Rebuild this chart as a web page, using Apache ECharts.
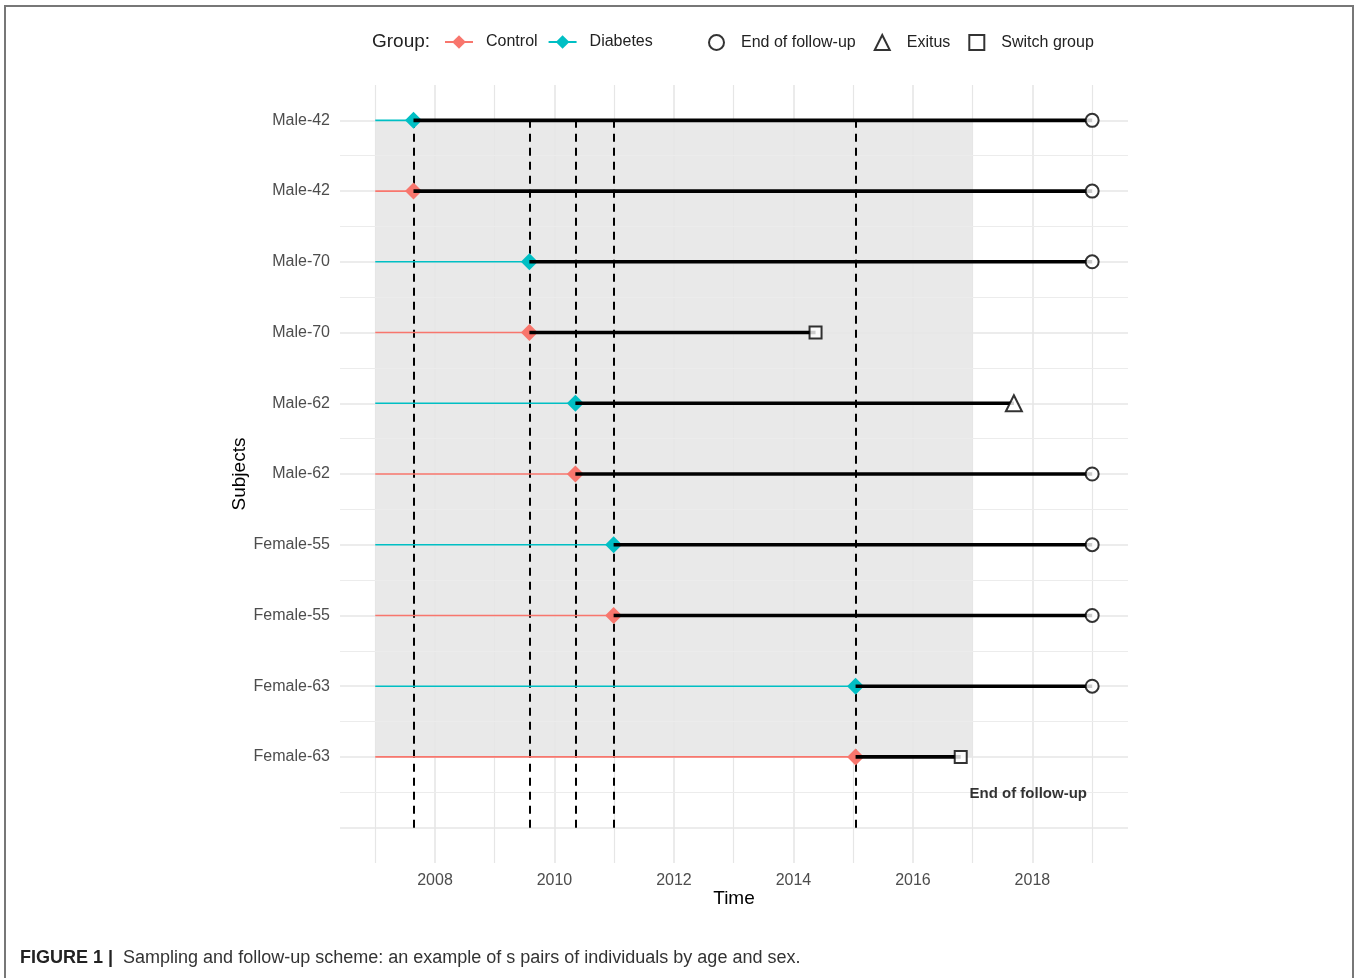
<!DOCTYPE html>
<html>
<head>
<meta charset="utf-8">
<script src="https://cdn.jsdelivr.net/npm/echarts@6/dist/echarts.min.js"></script>
<style>
html,body{margin:0;padding:0;background:#fff;}
#chart{width:1360px;height:978px;}
</style>
</head>
<body>
<div id="chart"></div>
<script>
// ---- data (rows listed bottom to top, row position = index + 1) ----
const subjects = ['Female-63','Female-63','Female-55','Female-55','Male-62','Male-62','Male-70','Male-70','Male-42','Male-42'];
const groups   = ['Control','Diabetes','Control','Diabetes','Control','Diabetes','Control','Diabetes','Control','Diabetes'];
const entryYear = [2015.04, 2015.04, 2010.99, 2010.99, 2010.35, 2010.35, 2009.58, 2009.58, 2007.64, 2007.64];
const exitYear  = [2016.80, 2019.00, 2019.00, 2019.00, 2019.00, 2017.69, 2014.37, 2019.00, 2019.00, 2019.00];
const outcome   = ['Switch group','End of follow-up','End of follow-up','End of follow-up','End of follow-up','Exitus','Switch group','End of follow-up','End of follow-up','End of follow-up'];
const studyStart = 2007;
const studyEnd = 2017;
const xTickLabels = [2008, 2010, 2012, 2014, 2016, 2018];
const xGridYears = [2007, 2008, 2009, 2010, 2011, 2012, 2013, 2014, 2015, 2016, 2017, 2018, 2019];
const groupNames = ['Control', 'Diabetes'];
const outcomeNames = ['End of follow-up', 'Exitus', 'Switch group'];
const annotationText = 'End of follow-up';
const annotationPos = [2017.93, 0.5];

const groupColors = {Control: '#F8766D', Diabetes: '#00BFC4'};
const outcomeSymbols = {'End of follow-up': 'emptyCircle', 'Exitus': 'emptyTriangle', 'Switch group': 'emptyRect'};
const outcomeSizes = {'End of follow-up': 13, 'Exitus': 16, 'Switch group': 12};
const FONT = 'Liberation Sans, Arial, Helvetica, sans-serif';

const chart = echarts.init(document.getElementById('chart'), null, {renderer: 'canvas'});

const series = [];
const rowPos = subjects.map((s, i) => i + 1);
const yMajor = [0].concat(rowPos);
const yMinor = yMajor.slice(0, -1).map(v => v + 0.5);

// gridlines
series.push({
  type: 'line', data: [], z: 1, silent: true, animation: false,
  markLine: {
    silent: true, symbol: 'none', animation: false, label: {show: false},
    data: [
      ...xGridYears.map(y => ({xAxis: y, lineStyle: {color: '#e6e6e6', width: y % 2 === 0 ? 1.6 : 1.2, type: 'solid'}})),
      ...yMajor.map(v => ({yAxis: v, lineStyle: {color: '#e6e6e6', width: 1.6, type: 'solid'}})),
      ...yMinor.map(v => ({yAxis: v, lineStyle: {color: '#ececec', width: 1.2, type: 'solid'}}))
    ]
  }
});

// study window shading
series.push({
  type: 'custom', z: 2, silent: true, animation: false,
  data: [[studyStart, rowPos[0], studyEnd, rowPos[rowPos.length - 1]]],
  renderItem: (params, api) => {
    const p1 = api.coord([api.value(0), api.value(1)]);
    const p2 = api.coord([api.value(2), api.value(3)]);
    return {type: 'rect', shape: {x: p1[0], y: p2[1], width: p2[0] - p1[0], height: p1[1] - p2[1]},
            style: {fill: 'rgba(0,0,0,0.085)'}};
  }
});

// coloured lines with entry diamonds
rowPos.forEach((y, i) => {
  series.push({
    name: groups[i], type: 'line', z: 10, animation: false,
    symbol: 'diamond', symbolSize: 17, showSymbol: true,
    lineStyle: {color: groupColors[groups[i]], width: 1.6},
    itemStyle: {color: groupColors[groups[i]], borderWidth: 0},
    data: [{value: [studyStart, y], symbolSize: 0}, {value: [entryYear[i], y]}]
  });
});

// dashed entry lines
const uniqueEntries = [...new Set(entryYear)];
series.push({
  type: 'line', data: [], z: 11, silent: true, animation: false,
  markLine: {
    silent: true, symbol: 'none', animation: false, label: {show: false},
    lineStyle: {color: '#000', width: 2, type: [8, 6]},
    data: uniqueEntries.map(x => [{coord: [x, yMajor[0]]}, {coord: [x, rowPos[rowPos.length - 1]]}])
  }
});

// black follow-up segments
rowPos.forEach((y, i) => {
  series.push({
    type: 'line', z: 12, animation: false, symbol: 'none', silent: true,
    lineStyle: {color: '#000', width: 3.6},
    data: [[entryYear[i], y], [exitYear[i], y]]
  });
});

// end markers
outcomeNames.forEach(o => {
  series.push({
    name: o, type: 'scatter', z: 13, animation: false,
    symbol: outcomeSymbols[o], symbolSize: outcomeSizes[o],
    itemStyle: {color: '#000', borderColor: '#000', borderWidth: 2},
    data: rowPos.map((y, i) => outcome[i] === o ? [exitYear[i], y] : null).filter(d => d)
  });
});

// annotation text
series.push({
  type: 'scatter', z: 14, animation: false, silent: true, symbolSize: 0,
  data: [annotationPos],
  label: {show: true, position: 'inside', offset: [0, 2], formatter: annotationText, color: '#000',
          fontFamily: FONT, fontSize: 15, fontWeight: 'bold'}
});

const option = {
  backgroundColor: '#fff',
  animation: false,
  textStyle: {fontFamily: FONT},
  title: [
    {text: 'Group:', left: 367, top: 27, textStyle: {fontFamily: FONT, fontSize: 19, fontWeight: 'normal', color: '#222'}},
    {text: '{b|FIGURE 1 |}  Sampling and follow-up scheme: an example of s pairs of individuals by age and sex.',
     left: 15, top: 944,
     textStyle: {fontFamily: FONT, fontSize: 18, fontWeight: 'normal', color: '#333',
       rich: {b: {fontFamily: FONT, fontSize: 18, fontWeight: 'bold', color: '#222'}}}}
  ],
  legend: [
    {data: groupNames, left: 439, top: 29, itemWidth: 28, itemHeight: 17, itemGap: 10,
     textStyle: {fontFamily: FONT, fontSize: 16, color: '#222', padding: [0, 0, 0, 8]}},
    {data: outcomeNames, left: 703, top: 29, itemWidth: 15, itemHeight: 15, itemGap: 18,
     textStyle: {fontFamily: FONT, fontSize: 16, color: '#222', padding: [0, 0, 0, 12]}}
  ],
  grid: {left: 340, right: 232, top: 85, bottom: 115, containLabel: false},
  xAxis: {
    type: 'value', min: 2006.41, max: 2019.6,
    axisLine: {show: false}, axisTick: {show: false}, splitLine: {show: false},
    axisLabel: {customValues: xTickLabels, color: '#4d4d4d', fontSize: 16, fontFamily: FONT, margin: 10,
      formatter: v => String(Math.round(v))},
    name: 'Time', nameLocation: 'middle', nameGap: 26, nameMoveOverlap: false,
    nameTextStyle: {fontFamily: FONT, fontSize: 19, color: '#000'}
  },
  yAxis: {
    type: 'value', min: -0.5, max: 10.5,
    axisLine: {show: false}, axisTick: {show: false}, splitLine: {show: false},
    axisLabel: {customValues: rowPos, color: '#4d4d4d', fontSize: 16, fontFamily: FONT, margin: 10,
      formatter: v => subjects[Math.round(v) - 1] || ''},
    name: 'Subjects', nameLocation: 'middle', nameRotate: 90, nameGap: 91, nameMoveOverlap: false,
    nameTextStyle: {fontFamily: FONT, fontSize: 19, color: '#000'}
  },
  graphic: [{
    type: 'polyline', silent: true,
    shape: {points: [[5, 978], [5, 6], [1353, 6], [1353, 978]]},
    style: {stroke: '#777', lineWidth: 2, fill: null}
  }],
  series: series
};
chart.setOption(option);
</script>
</body>
</html>
